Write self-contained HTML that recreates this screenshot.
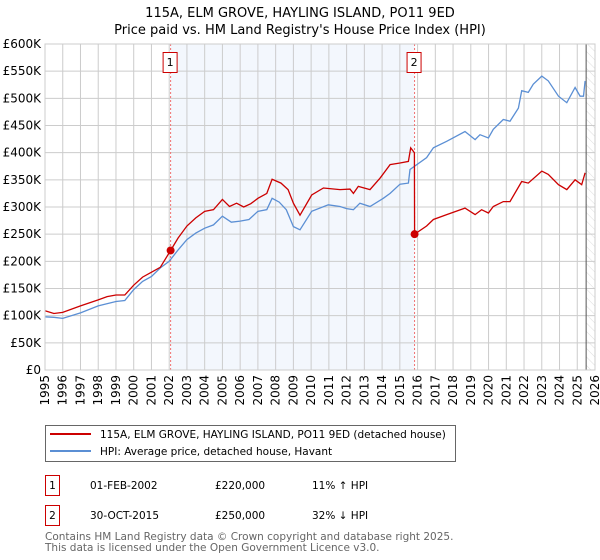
<!DOCTYPE html>
<html><head><meta charset="utf-8"><style>
body{margin:0;background:#fff;font-family:"DejaVu Sans","Liberation Sans",sans-serif;}
svg{display:block}
</style></head><body>
<svg id="chart" width="600" height="560" xmlns="http://www.w3.org/2000/svg" font-family="DejaVu Sans, Liberation Sans, sans-serif">
<text x="300" y="17" text-anchor="middle" font-size="13">115A, ELM GROVE, HAYLING ISLAND, PO11 9ED</text>
<text x="300" y="34" text-anchor="middle" font-size="13">Price paid vs. HM Land Registry's House Price Index (HPI)</text>
<defs><pattern id="hatch" width="6" height="6" patternUnits="userSpaceOnUse" patternTransform="rotate(-45)"><line x1="0" y1="0" x2="0" y2="6" stroke="#ddd" stroke-width="1"/></pattern></defs>
<g id="grid"></g><g id="marks"></g><g id="axes"></g>
<g>
<rect x="45.5" y="425.5" width="410" height="36" fill="#fff" stroke="#666"/>
<line x1="50" y1="434" x2="91" y2="434" stroke="#cc0000" stroke-width="2"/>
<text x="100" y="438" font-size="10.5">115A, ELM GROVE, HAYLING ISLAND, PO11 9ED (detached house)</text>
<line x1="50" y1="451" x2="91" y2="451" stroke="#5b8fd4" stroke-width="2"/>
<text x="100" y="455" font-size="10.5">HPI: Average price, detached house, Havant</text>
</g>
<g font-size="10.5">
<rect x="45.5" y="475.5" width="14" height="20" fill="#fff" stroke="#cc0000"/><text x="52.5" y="489" text-anchor="middle">1</text>
<text x="90" y="489">01-FEB-2002</text><text x="215" y="489">£220,000</text><text x="312" y="489">11% ↑ HPI</text>
<rect x="45.5" y="505.5" width="14" height="20" fill="#fff" stroke="#cc0000"/><text x="52.5" y="519" text-anchor="middle">2</text>
<text x="90" y="519">30-OCT-2015</text><text x="215" y="519">£250,000</text><text x="312" y="519">32% ↓ HPI</text>
</g>
<text x="45" y="540" font-size="10.5" fill="#666">Contains HM Land Registry data © Crown copyright and database right 2025.</text>
<text x="45" y="551" font-size="10.5" fill="#666">This data is licensed under the Open Government Licence v3.0.</text>
</svg>
<script>
const yTicks=[0,50,100,150,200,250,300,350,400,450,500,550,600];
const yTickLabels=["£0","£50K","£100K","£150K","£200K","£250K","£300K","£350K","£400K","£450K","£500K","£550K","£600K"];
const xYears=[1995,1996,1997,1998,1999,2000,2001,2002,2003,2004,2005,2006,2007,2008,2009,2010,2011,2012,2013,2014,2015,2016,2017,2018,2019,2020,2021,2022,2023,2024,2025,2026];
const hpiYears=[1995,1995.5,1996,1997,1998,1999,1999.5,2000,2000.5,2001,2001.5,2002,2002.5,2003,2003.5,2004,2004.5,2005,2005.5,2006,2006.5,2007,2007.5,2007.8,2008.2,2008.6,2009,2009.37,2010.03,2010.97,2011.63,2012.0,2012.38,2012.75,2013.32,2014.07,2014.45,2015.01,2015.48,2015.57,2016.51,2016.89,2017.64,2018.67,2019.24,2019.52,2019.99,2020.27,2020.83,2021.21,2021.68,2021.87,2022.24,2022.52,2023.0,2023.37,2023.94,2024.41,2024.88,2025.16,2025.35,2025.44];
const hpiValues=[98,97,95,105,118,126,128,148,163,172,188,200,221,240,252,261,267,283,272,274,277,292,295,316,309,295,264,258,292,304,301,297,295,307,301,316,325,342,344,369,391,409,421,439,424,433,427,443,461,458,482,514,511,526,541,532,504,492,520,504,504,532];
const propYears=[1995,1995.5,1996,1997,1998,1998.5,1999,1999.5,2000,2000.5,2001,2001.5,2002.08,2002.5,2003,2003.5,2004,2004.5,2005,2005.4,2005.8,2006.2,2006.6,2007,2007.5,2007.8,2008.3,2008.7,2009,2009.37,2010.03,2010.69,2011.63,2012.19,2012.38,2012.66,2013.32,2013.88,2014.45,2015.01,2015.48,2015.61,2015.82,2015.83,2016.51,2016.89,2017.64,2018.67,2019.24,2019.61,2019.99,2020.27,2020.83,2021.21,2021.87,2022.24,2023.0,2023.37,2023.94,2024.41,2024.88,2025.25,2025.44];
const propValues=[109,104,106,118,129,135,138,138,156,171,180,189,220,243,265,280,292,295,314,301,307,300,306,316,325,351,344,332,307,285,322,335,332,333,325,338,332,353,378,381,384,409,400,250,265,277,286,298,286,295,289,301,310,310,347,344,366,360,341,332,350,341,363];
const sales=[{n:"1",year:2002.08,value:220},{n:"2",year:2015.83,value:250}];
const X0=45,X1=595,Y0=370,Y1=44;
const xs=y=>X0+(y-1995)/(2026-1995)*(X1-X0);
const ys=v=>Y0-v/600*(Y0-Y1);
const NS="http://www.w3.org/2000/svg";
function mk(tag,attrs,parent){const e=document.createElementNS(NS,tag);for(const k in attrs)e.setAttribute(k,attrs[k]);parent.appendChild(e);return e;}
const grid=document.getElementById('grid'),marks=document.getElementById('marks'),axes=document.getElementById('axes');
const sh=mk('rect',{x:xs(sales[0].year),y:Y1,width:xs(sales[1].year)-xs(sales[0].year),height:Y0-Y1,fill:'#eef3fc',opacity:0.7},grid);


const ht=mk('rect',{x:xs(2025.5),y:Y1,width:X1-xs(2025.5),height:Y0-Y1,fill:'url(#hatch)'},grid);


yTicks.forEach((t,i)=>{
 const l=mk('line',{x1:X0,x2:X1,y1:ys(t),y2:ys(t),stroke:'#ccc','stroke-width':1},grid);
 
 
 const tx=mk('text',{x:X0-4,y:ys(t)+4,'text-anchor':'end','font-size':12},axes);
 tx.textContent=yTickLabels[i];
 
 
});
xYears.forEach(yr=>{
 const l=mk('line',{x1:xs(yr),x2:xs(yr),y1:Y1,y2:Y0,stroke:'#ccc','stroke-width':1},grid);
 
 
 const tx=mk('text',{x:0,y:0,'text-anchor':'end','font-size':12,transform:`translate(${xs(yr)+4},${Y0+5}) rotate(-90)`},axes);
 tx.textContent=yr;
 
 
});
const vl=mk('line',{x1:xs(2025.5),x2:xs(2025.5),y1:Y1,y2:Y0,stroke:'#555','stroke-width':1},grid);


sales.forEach(s=>{
 const l=mk('line',{x1:xs(s.year),x2:xs(s.year),y1:Y1,y2:Y0,stroke:'#f07070','stroke-width':1,'stroke-dasharray':'2,2'},marks);
 
 
 const r=mk('rect',{x:xs(s.year)-7.5,y:52.5,width:14,height:20,fill:'#fff',stroke:'#cc0000'},marks);
 
 
 const t=mk('text',{x:xs(s.year)-0.5,y:66,'text-anchor':'middle','font-size':11},marks);
 t.textContent=s.n;
 
 
});
const hp=mk('path',{d:hpiYears.map((y,i)=>(i?'L':'M')+xs(y).toFixed(1)+','+ys(hpiValues[i]).toFixed(1)).join(''),fill:'none',stroke:'#5b8fd4','stroke-width':1.3},marks);


const pp=mk('path',{d:propYears.map((y,i)=>(i?'L':'M')+xs(y).toFixed(1)+','+ys(propValues[i]).toFixed(1)).join(''),fill:'none',stroke:'#cc0000','stroke-width':1.3},marks);


sales.forEach(s=>{
 const c=mk('circle',{cx:xs(s.year),cy:ys(s.value),r:4,fill:'#cc0000'},marks);
 
 
});
const fr=mk('rect',{x:X0,y:Y1,width:X1-X0,height:Y0-Y1,fill:'none',stroke:'#ccc'},axes);


</script>
</body></html>
